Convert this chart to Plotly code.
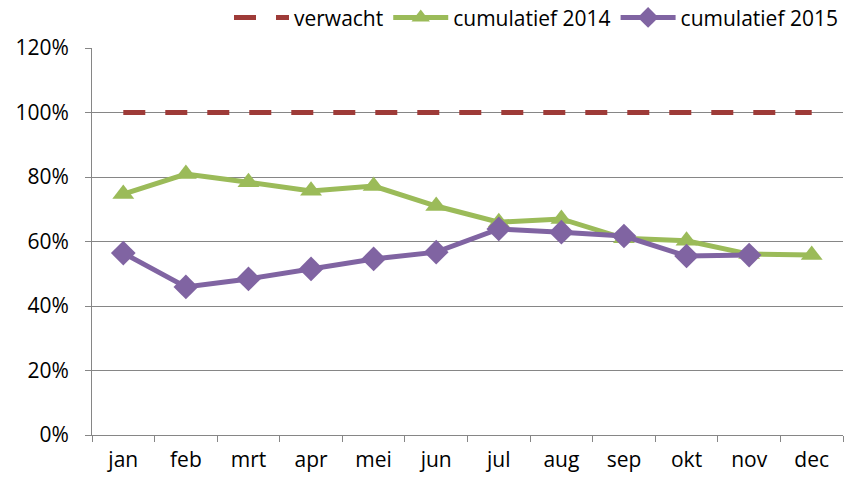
import plotly.graph_objects as go

months = ["jan", "feb", "mrt", "apr", "mei", "jun", "jul", "aug", "sep", "okt", "nov", "dec"]
expected = [1.0] * 12
cum_2014 = [0.747, 0.809, 0.784, 0.757, 0.772, 0.710, 0.660, 0.670, 0.610, 0.602, 0.561, 0.558]
cum_2015 = [0.564, 0.459, 0.484, 0.515, 0.546, 0.567, 0.639, 0.629, 0.617, 0.555, 0.558, None]

font_family = "Open Sans, sans-serif"

fig = go.Figure()
fig.add_trace(go.Scatter(
    x=months, y=expected, name="verwacht", mode="lines",
    line=dict(color="#9E3B38", width=5, dash="22px,20px"),
))
fig.add_trace(go.Scatter(
    x=months, y=cum_2014, name="cumulatief 2014", mode="lines+markers",
    line=dict(color="#9BBB59", width=5),
    marker=dict(symbol="triangle-up", size=19, color="#9BBB59"),
))
fig.add_trace(go.Scatter(
    x=months, y=cum_2015, name="cumulatief 2015", mode="lines+markers",
    line=dict(color="#8064A2", width=5),
    marker=dict(symbol="diamond", size=19, color="#8064A2"),
))

fig.update_layout(
    width=854, height=480,
    margin=dict(l=92, r=11, t=48, b=45, autoexpand=False),
    plot_bgcolor="white", paper_bgcolor="white",
    font=dict(family=font_family, size=21, color="#000000"),
    showlegend=True,
    legend=dict(orientation="h", x=1.0, xanchor="right", y=1.078, yanchor="middle",
                font=dict(size=21), tracegroupgap=0, itemwidth=55),
)
fig.update_xaxes(
    type="category", showgrid=False, showline=True, linecolor="#868686", linewidth=1,
    ticks="outside", tickson="boundaries", ticklen=6, tickcolor="#868686",
    range=[-0.5, 11.5], automargin=False, ticklabelstandoff=6,
)
fig.update_yaxes(
    range=[0, 1.2], dtick=0.2, tickformat=".0%",
    showgrid=True, gridcolor="#868686", gridwidth=1,
    showline=True, linecolor="#868686", linewidth=1,
    ticks="outside", ticklen=6, tickcolor="#868686", zeroline=False, automargin=False,
    ticklabelstandoff=12,
)

# drop the default body margin so the figure sits at the page origin
fig.write_html("out.html", config={"displayModeBar": False},
               post_script="document.body.style.margin='0';")
